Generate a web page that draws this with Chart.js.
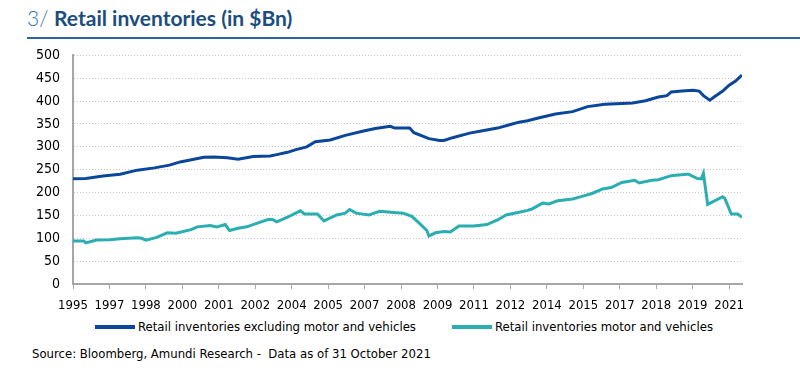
<!DOCTYPE html>
<html>
<head>
<meta charset="utf-8">
<script src="https://cdn.jsdelivr.net/npm/chart.js@4.4.1/dist/chart.umd.min.js"></script>
<style>
  html, body { margin: 0; padding: 0; background: #fff; }
  body { width: 800px; height: 376px; position: relative; overflow: hidden; }
  .title {
    position: absolute; left: 27px; top: 5px;
    font-family: Lato, "Open Sans", sans-serif; font-size: 21px; color: #1b4d7e;
    white-space: nowrap;
  }
  .title .num { font-weight: 300; color: #2f6fa8; }
  .title .txt { font-weight: 700; }
  .rule { position: absolute; left: 27px; right: 0; top: 37px; height: 2px; background: #2a6698; }
  .chart-box { position: absolute; left: 0; top: 34px; width: 800px; height: 282px; }
  .legend {
    position: absolute; top: 318px; left: 0; width: 800px; height: 18px;
    font-family: "DejaVu Sans Condensed", sans-serif; font-size: 13px; color: #000;
  }
  .legend-item { position: absolute; top: 0; height: 18px; line-height: 18px; white-space: nowrap; }
  .legend-item .swatch { display: inline-block; width: 40px; height: 4px; vertical-align: middle; margin-right: 3px; position: relative; top: -1px; }
  .source {
    position: absolute; left: 32px; top: 346px;
    font-family: "DejaVu Sans Condensed", sans-serif;
    font-size: 13px; color: #000; white-space: nowrap;
  }
</style>
</head>
<body>
<div class="title"><span class="num">3/ </span><span class="txt">Retail inventories (in $Bn)</span></div>
<div class="rule"></div>
<div class="chart-box"><canvas id="inv-chart" width="800" height="282"></canvas></div>
<div class="legend" id="legend"></div>
<div class="source">Source: Bloomberg, Amundi Research -&nbsp; Data as of 31 October 2021</div>

<script>
// month offsets counted from Oct 1995, one tick label every 17 months
const tickLabels = ['1995', '1997', '1998', '2000', '2001', '2002', '2004', '2005', '2007', '2008',
  '2009', '2011', '2012', '2014', '2015', '2017', '2018', '2019', '2021'];
const tickStep = 17;
const lastMonth = 312;

// Retail inventories excluding motor and vehicles
const exMotorMonths = [0, 6, 14, 22, 30, 38, 45, 50, 61, 66, 72, 77, 84, 92, 95, 100, 104, 109, 113, 120,
  127, 135, 141, 148, 150, 157, 159, 166, 171, 173, 177, 185, 191, 198, 204, 208, 212, 217, 225, 233,
  240, 248, 256, 261, 267, 273, 277, 279, 284, 289, 292, 294, 297, 299, 303, 306, 309, 312];
const exMotorValues = [230, 231, 236, 240, 249, 254, 260, 267, 277, 278, 276, 273, 279, 280, 283, 288, 294, 300, 311, 315,
  325, 334, 340, 345, 341, 341, 331, 318, 314, 314, 320, 330, 335, 341, 349, 354, 357, 363, 372, 377,
  388, 393, 395, 396, 401, 409, 412, 420, 422, 424, 422, 412, 402, 409, 422, 435, 444, 457];

// Retail inventories motor and vehicles
const motorMonths = [0, 5, 6, 11, 17, 22, 30, 32, 34, 39, 44, 48, 55, 58, 64, 67, 71, 73, 77, 81,
  86, 91, 93, 95, 100, 106, 108, 114, 117, 123, 127, 129, 132, 138, 143, 151, 154, 158, 162, 165,
  166, 169, 173, 176, 180, 187, 193, 198, 202, 207, 212, 214, 219, 222, 226, 233, 237, 242, 247, 251,
  256, 262, 264, 270, 273, 279, 286, 287, 291, 293, 294, 296, 303, 304, 307, 310, 312];
const motorValues = [94, 94, 90, 96, 97, 99, 101, 100, 96, 102, 112, 111, 119, 125, 128, 125, 130, 117, 122, 125,
  133, 141, 141, 136, 146, 160, 153, 153, 138, 151, 155, 163, 155, 151, 159, 156, 155, 148, 131, 117,
  105, 112, 115, 114, 127, 127, 130, 140, 151, 156, 161, 164, 177, 175, 182, 186, 191, 198, 208, 211,
  222, 227, 221, 227, 228, 237, 240, 240, 231, 230, 242, 174, 191, 187, 153, 153, 146];

function toPoints(months, values) {
  return months.map(function (m, i) { return { x: m, y: values[i] }; });
}

const narrowFont = '"DejaVu Sans Condensed", sans-serif';

document.addEventListener('DOMContentLoaded', function () {
  var ctx = document.getElementById('inv-chart').getContext('2d');

  var chart = new Chart(ctx, {
    type: 'line',
    data: {
      datasets: [{
        label: 'Retail inventories excluding motor and vehicles',
        data: toPoints(exMotorMonths, exMotorValues),
        borderColor: '#0a469a',
        backgroundColor: '#0a469a',
        borderWidth: 3,
        pointRadius: 0,
        tension: 0
      }, {
        label: 'Retail inventories motor and vehicles',
        data: toPoints(motorMonths, motorValues),
        borderColor: '#2aaeb1',
        backgroundColor: '#2aaeb1',
        borderWidth: 3,
        pointRadius: 0,
        tension: 0
      }]
    },
    options: {
      responsive: false,
      animation: false,
      layout: { padding: { top: 0, right: 58, left: 0, bottom: 0 } },
      plugins: {
        tooltip: { enabled: false },
        legend: { display: false }
      },
      scales: {
        x: {
          type: 'linear',
          min: 0,
          max: lastMonth,
          afterBuildTicks: function (scale) {
            scale.ticks = tickLabels.map(function (_, i) { return { value: i * tickStep }; });
          },
          afterFit: function (scale) { scale.height = 32; },
          ticks: {
            autoSkip: false,
            maxRotation: 0,
            padding: 9,
            color: '#000',
            font: { family: narrowFont, size: 13 },
            callback: function (value, index) { return tickLabels[index]; }
          },
          grid: { drawOnChartArea: false, drawTicks: true, tickLength: 5, color: '#a6a6a6', lineWidth: 1 },
          border: { display: true, color: '#a6a6a6', width: 2 }
        },
        y: {
          min: 0,
          max: 500,
          afterFit: function (scale) { scale.width = 73; },
          ticks: {
            stepSize: 50,
            autoSkip: false,
            padding: 13,
            color: '#000',
            font: { family: narrowFont, size: 14 }
          },
          grid: { drawTicks: false, color: '#c4c4c4', lineWidth: 1 },
          border: { display: true, color: '#a6a6a6', width: 2, dash: [1, 2] }
        }
      }
    }
  });

  // legend under the axis, built from the datasets
  var legendLeft = [95, 452];
  var legend = document.getElementById('legend');
  chart.data.datasets.forEach(function (ds, i) {
    var item = document.createElement('div');
    item.className = 'legend-item';
    item.style.left = legendLeft[i] + 'px';
    item.innerHTML = '<span class="swatch" style="background:' + ds.borderColor + '"></span>' + ds.label;
    legend.appendChild(item);
  });
});
</script>
</body>
</html>
